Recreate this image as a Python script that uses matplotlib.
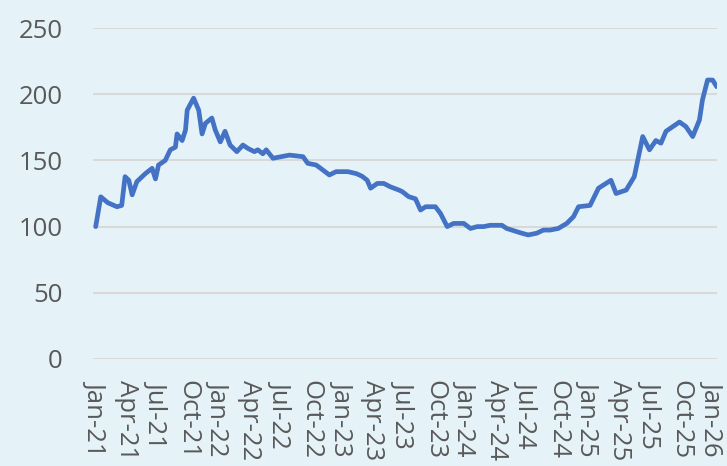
import matplotlib
matplotlib.use("Agg")
import matplotlib.pyplot as plt
import matplotlib.dates as mdates
import pandas as pd

dates = [
    "2021-01-01", "2021-01-16", "2021-02-06", "2021-03-05", "2021-03-19", "2021-03-29",
    "2021-04-09", "2021-04-19", "2021-05-03", "2021-05-28", "2021-06-17", "2021-06-27",
    "2021-07-06", "2021-07-26", "2021-08-10", "2021-08-25", "2021-08-30", "2021-09-14",
    "2021-09-24", "2021-09-29", "2021-10-18", "2021-11-02", "2021-11-12", "2021-11-22",
    "2021-12-11", "2021-12-21", "2022-01-05", "2022-01-19", "2022-02-03", "2022-02-23",
    "2022-03-13", "2022-03-28", "2022-04-16", "2022-04-26", "2022-05-11", "2022-05-21",
    "2022-06-10", "2022-07-04", "2022-07-29", "2022-09-07", "2022-09-21", "2022-10-16",
    "2022-11-05", "2022-11-24", "2022-12-14", "2023-01-18", "2023-02-12", "2023-03-01",
    "2023-03-16", "2023-03-26", "2023-04-15", "2023-05-04", "2023-05-24", "2023-06-18",
    "2023-06-28", "2023-07-17", "2023-08-06", "2023-08-21", "2023-09-05", "2023-10-04",
    "2023-10-19", "2023-11-08", "2023-11-27", "2023-12-27", "2024-01-16", "2024-02-05",
    "2024-02-24", "2024-03-14", "2024-04-18", "2024-05-02", "2024-05-17", "2024-06-16",
    "2024-07-05", "2024-07-30", "2024-08-19", "2024-09-08", "2024-10-02", "2024-10-27",
    "2024-11-16", "2024-12-01", "2025-01-04", "2025-01-29", "2025-03-07", "2025-03-22",
    "2025-04-21", "2025-05-15", "2025-06-09", "2025-06-29", "2025-07-18", "2025-08-02",
    "2025-08-17", "2025-09-26", "2025-10-15", "2025-11-04", "2025-11-24", "2025-12-03",
    "2025-12-18", "2026-01-02", "2026-01-14",
]
values = [
    100, 122.5, 118, 115, 116, 137.7,
    135, 124, 134, 140, 144, 136,
    146.5, 150, 158, 160, 170, 165,
    173, 188, 197, 188, 170, 178,
    182, 173, 164, 172, 161.6, 156.6,
    161.6, 159, 156.6, 158, 155, 158,
    151.6, 152.8, 154, 152.8, 147.8, 146.5,
    142.7, 139, 141.5, 141.5, 140, 138,
    135, 129, 132.6, 132.6, 130, 127.6,
    126.4, 122.6, 121, 112.5, 115, 115,
    110, 100, 102.4, 102.4, 98.6, 100,
    100, 101, 101, 98.6, 97.4, 95,
    93.7, 95, 97.4, 97.4, 98.6, 102.4,
    107.5, 115, 116, 129, 135, 125,
    127.6, 137.7, 168, 158, 165, 163,
    172, 179, 175.5, 168, 180.5, 195.8,
    210.7, 210.7, 205.7,
]
y_ticks = [0, 50, 100, 150, 200, 250]

bg = "#E5F3F9"
fig = plt.figure(figsize=(7.27, 4.66), dpi=100, facecolor=bg)
ax = fig.add_axes([93 / 727, 1 - 359 / 466, (717 - 93) / 727, (359 - 28) / 466])
ax.set_facecolor(bg)

x = pd.to_datetime(dates)
ax.plot(x, values, color="#4472C4", linewidth=3.4, solid_joinstyle="round",
        solid_capstyle="round", zorder=3)

ax.set_ylim(0, 250)
ax.set_yticks(y_ticks)
ax.set_xlim(pd.Timestamp("2020-12-24"), pd.Timestamp("2026-01-15"))
ax.xaxis.set_major_locator(mdates.MonthLocator(bymonth=[1, 4, 7, 10]))
ax.xaxis.set_major_formatter(mdates.DateFormatter("%b-%y"))

ax.grid(axis="y", color="#D9D9D9", linewidth=1.5, zorder=0)
ax.grid(axis="x", visible=False)
for s in ax.spines.values():
    s.set_visible(False)

ax.tick_params(axis="y", length=0, pad=22, labelsize=18.5, labelcolor="#595959")
ax.tick_params(axis="x", length=0, pad=15, labelsize=18.5, labelcolor="#595959")
for lbl in ax.get_xticklabels():
    lbl.set_rotation(-90)
    lbl.set_fontfamily("Open Sans")
for lbl in ax.get_yticklabels():
    lbl.set_fontfamily("Open Sans")

fig.savefig("out.png", dpi=100, facecolor=bg)
